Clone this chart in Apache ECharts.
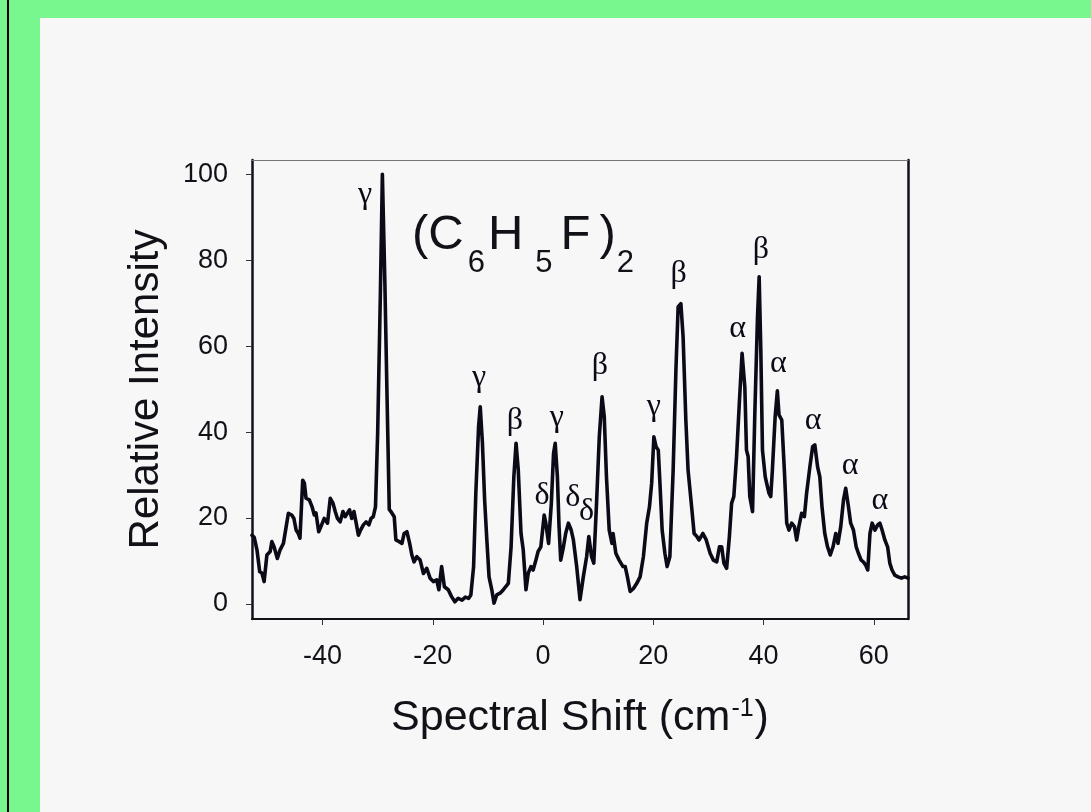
<!DOCTYPE html>
<html><head><meta charset="utf-8">
<script src="https://cdn.jsdelivr.net/npm/echarts@6/dist/echarts.min.js"></script>
<style>
html,body{margin:0;padding:0;width:1091px;height:812px;overflow:hidden;background:#77f78d;}
#edge{position:absolute;left:7px;top:0;width:2px;height:812px;background:#000;}
#panel{position:absolute;left:40px;top:18px;right:0;bottom:0;background:#f7f7f7;}
#chart{position:absolute;left:0;top:0;width:1091px;height:812px;}
</style></head><body>
<div id="edge"></div><div id="panel"></div><div id="chart"></div>
<script>
// Spectral shift (cm^-1) and relative intensity
const shift = [
-52.8,-52.4,-51.9,-51.4,-51.0,-50.6,-50.1,-49.5,-49.2,-48.8,-48.2,-47.7,-47.1,-46.6,-46.2,-45.6,-45.2,-44.8,-44.4,-44.1,
-43.6,-43.3,-43.0,-42.4,-41.9,-41.5,-41.2,-40.7,-40.3,-39.7,-39.1,-38.6,-38.1,-37.7,-37.3,-36.8,-36.3,-35.9,-35.5,-35.1,
-34.7,-34.3,-33.9,-33.5,-33.1,-32.6,-32.1,-31.6,-31.2,-30.8,-30.4,-30.0,-29.5,-29.15,-28.7,-28.3,-27.9,-27.6,-27.0,-26.7,
-26.1,-25.6,-25.2,-24.7,-24.2,-23.8,-23.4,-22.9,-22.3,-21.7,-21.1,-20.5,-19.9,-19.3,-18.9,-18.4,-17.9,-17.2,-16.6,-16.0,
-15.4,-14.7,-14.1,-13.5,-13.1,-12.6,-12.2,-11.7,-11.4,-11.0,-10.6,-10.2,-9.8,-9.3,-8.9,-8.4,-7.8,-7.2,-6.8,-6.3,
-5.8,-5.3,-4.9,-4.5,-4.0,-3.6,-3.1,-2.7,-2.2,-1.8,-1.3,-0.9,-0.4,0.2,0.5,1.0,1.5,1.9,2.2,2.6,
2.9,3.2,3.7,4.1,4.6,5.1,5.5,6.1,6.7,7.3,7.9,8.3,8.8,9.2,9.7,10.2,10.7,11.1,11.5,12.0,
12.5,12.7,13.2,13.8,14.5,14.9,15.3,15.8,16.4,17.0,17.6,18.2,18.8,19.3,19.7,20.1,20.5,20.9,21.2,21.6,
22.1,22.5,23.0,23.6,24.1,24.5,25.0,25.4,25.9,26.3,27.0,27.4,27.9,28.3,29.0,29.6,30.3,30.9,31.5,32.0,
32.4,32.8,33.3,33.8,34.2,34.6,35.1,35.6,36.1,36.6,36.9,37.2,37.5,38.0,38.4,38.9,39.2,39.5,39.8,40.3,
40.7,41.0,41.3,41.6,42.1,42.5,42.8,43.3,43.8,44.2,44.6,45.1,45.6,46.0,46.4,46.9,47.4,47.8,48.4,48.9,
49.3,49.8,50.2,50.6,51.1,51.6,52.1,52.6,53.1,53.5,54.0,54.5,54.9,55.4,55.8,56.3,56.8,57.2,57.7,58.1,
58.5,58.9,59.3,59.7,60.2,60.7,61.1,61.5,62.0,62.5,62.9,63.3,63.8,64.4,65.0,65.6,66.2
];
const intensity = [
16.0,15.5,12.6,7.5,7.2,5.2,11.4,12.2,14.5,13.3,10.6,12.6,14.1,18.0,21.1,20.7,19.9,17.2,16.4,15.3,
28.8,28.1,24.6,24.2,22.6,20.7,21.2,16.8,18.0,19.9,18.8,24.6,23.4,21.5,19.9,19.1,21.5,20.3,21.1,21.9,
19.9,21.5,18.8,16.0,17.2,18.4,19.1,18.4,19.9,20.3,22.6,40.0,73.0,100.0,75.0,48.0,22.0,21.5,20.3,14.9,
14.5,14.1,16.4,16.8,14.1,11.4,9.8,11.0,10.2,7.1,8.3,6.0,5.2,5.6,3.3,8.7,4.0,3.3,1.7,0.5,
1.3,0.9,1.6,1.3,2.1,8.7,25.7,41.2,45.9,37.4,24.2,14.9,6.3,3.3,0.2,2.1,2.5,3.3,4.0,4.8,
13.3,29.6,37.4,31.2,16.4,12.6,3.3,7.1,8.7,7.9,10.2,12.2,13.3,20.7,18.8,14.1,23.4,35.0,37.4,29.6,
18.0,10.2,13.3,16.4,18.8,17.2,14.9,8.7,1.0,6.3,11.0,15.7,11.0,9.5,23.4,38.9,48.2,43.6,29.6,17.2,
14.1,16.4,11.8,10.2,8.7,8.7,6.3,2.9,3.6,4.8,6.3,11.0,18.8,22.6,28.1,38.9,36.6,35.8,28.1,17.2,
11.8,8.7,11.0,31.2,54.4,69.1,69.9,62.2,42.8,31.2,21.9,16.4,15.7,14.9,16.4,14.9,11.8,10.2,9.8,13.3,
13.3,9.5,8.3,15.7,23.4,25.0,34.3,46.7,58.3,50.5,35.8,34.3,25.0,21.5,43.6,66.8,76.1,59.1,35.8,29.6,
27.3,25.7,25.0,31.2,43.6,49.6,44.0,42.8,30.4,18.8,17.2,18.8,18.0,14.9,18.0,21.1,20.3,25.7,31.9,36.6,
37.0,31.9,29.6,22.6,16.4,13.3,11.4,13.3,16.4,14.1,18.0,24.2,26.9,22.6,18.8,17.2,13.3,11.8,10.2,9.8,
9.1,7.9,16.4,18.8,17.2,18.4,18.8,17.2,14.9,13.3,9.5,7.9,6.7,6.3,6.0,6.3,6.0
];
const xTicks = [-40, -20, 0, 20, 40, 60];
const yTicks = [0, 20, 40, 60, 80, 100];
// Peak assignment labels
const peakLabelX = [-32.3, -11.6, -5.1, -0.2, 2.5, 5.4, 7.9, 10.3, 20.1, 24.6, 35.3, 39.5, 42.7, 49.0, 55.7, 61.1];
const peakLabelY = [95.3, 52.6, 42.6, 25.3, 43.3, 24.8, 21.5, 55.4, 46.0, 76.9, 64.0, 82.4, 55.9, 42.7, 32.3, 24.1];
const peakLabelText = ['γ','γ','β','δ','γ','δ','δ','β','γ','β','α','β','α','α','α','α'];

const xMin = -52.8, xMax = 66.2, yMin = -3.5, yMax = 103.3;

const chart = echarts.init(document.getElementById('chart'), null, {renderer: 'canvas'});
const sans = 'Liberation Sans, Arial, sans-serif';
const ink = '#111118';

chart.setOption({
  backgroundColor: 'transparent',
  animation: false,
  title: {
    text: '{p|(C}{s|6}{p|H}{s5|5}{p|F}{q|)}{s2|2}',
    left: 412, top: 211, padding: 0,
    textStyle: {
      fontWeight: 'normal',
      rich: {
        p: {fontSize: 49, fontWeight: 'normal', fontFamily: sans, color: ink, lineHeight: 56, verticalAlign: 'top'},
        q: {fontSize: 49, fontWeight: 'normal', fontFamily: sans, color: ink, lineHeight: 56, verticalAlign: 'top', padding: [0, 0, 0, 9]},
        s: {fontSize: 31, fontWeight: 'normal', fontFamily: sans, color: ink, lineHeight: 28, verticalAlign: 'top', padding: [37, 3, 0, 4]},
        s5: {fontSize: 31, fontWeight: 'normal', fontFamily: sans, color: ink, lineHeight: 28, verticalAlign: 'top', padding: [37, 8, 0, 12]},
        s2: {fontSize: 31, fontWeight: 'normal', fontFamily: sans, color: ink, lineHeight: 28, verticalAlign: 'top', padding: [37, 0, 0, 1]}
      }
    }
  },
  grid: {left: 252, top: 160, width: 656, height: 459, outerBoundsMode: 'none', containLabel: false},
  xAxis: [{
    type: 'value', min: xMin, max: xMax, position: 'bottom',
    axisLine: {show: true, onZero: false, lineStyle: {color: ink, width: 2}},
    axisTick: {show: true, inside: false, length: 6, customValues: xTicks, lineStyle: {color: '#333', width: 1}},
    axisLabel: {customValues: xTicks, fontSize: 27, fontFamily: sans, color: ink, margin: 24},
    splitLine: {show: false},
    name: '{a|Spectral Shift (cm}{b|-1}{a|)}',
    nameLocation: 'middle', nameGap: 74,
    nameTextStyle: {
      rich: {
        a: {fontSize: 43, fontFamily: sans, color: ink, lineHeight: 50},
        b: {fontSize: 25, fontFamily: sans, color: ink, lineHeight: 25, verticalAlign: 'top', padding: [4, 1, 0, 1]}
      }
    }
  }, {
    type: 'value', min: xMin, max: xMax, position: 'top',
    axisLine: {show: true, onZero: false, lineStyle: {color: '#777', width: 1}},
    axisTick: {show: false}, axisLabel: {show: false}, splitLine: {show: false}
  }],
  yAxis: [{
    type: 'value', min: yMin, max: yMax, position: 'left',
    axisLine: {show: true, onZero: false, lineStyle: {color: ink, width: 2.5}},
    axisTick: {show: true, inside: false, length: 6, customValues: yTicks, lineStyle: {color: '#333', width: 1}},
    axisLabel: {customValues: yTicks, fontSize: 27, fontFamily: sans, color: ink, margin: 24},
    splitLine: {show: false},
    name: 'Relative Intensity', nameLocation: 'middle', nameGap: 85,
    nameTextStyle: {fontSize: 42, fontFamily: sans, color: ink}
  }, {
    type: 'value', min: yMin, max: yMax, position: 'right',
    axisLine: {show: true, onZero: false, lineStyle: {color: ink, width: 2.5}},
    axisTick: {show: false}, axisLabel: {show: false}, splitLine: {show: false}
  }],
  series: [{
    type: 'line',
    data: shift.map((x, i) => [x, intensity[i]]),
    showSymbol: false, symbol: 'none',
    lineStyle: {color: '#0b0b18', width: 3.6, join: 'round', cap: 'round'},
    clip: true, z: 3
  }, {
    type: 'scatter',
    data: peakLabelX.map((x, i) => [x, peakLabelY[i], peakLabelText[i]]),
    symbolSize: 1,
    itemStyle: {opacity: 0},
    label: {
      show: true, position: 'inside',
      formatter: p => p.data[2],
      fontSize: 32, fontFamily: 'Liberation Serif, Times New Roman, serif',
      color: '#0b0b18', textBorderWidth: 0, textBorderColor: 'transparent', opacity: 1
    },
    emphasis: {disabled: true},
    z: 4
  }]
});
</script>
</body></html>
